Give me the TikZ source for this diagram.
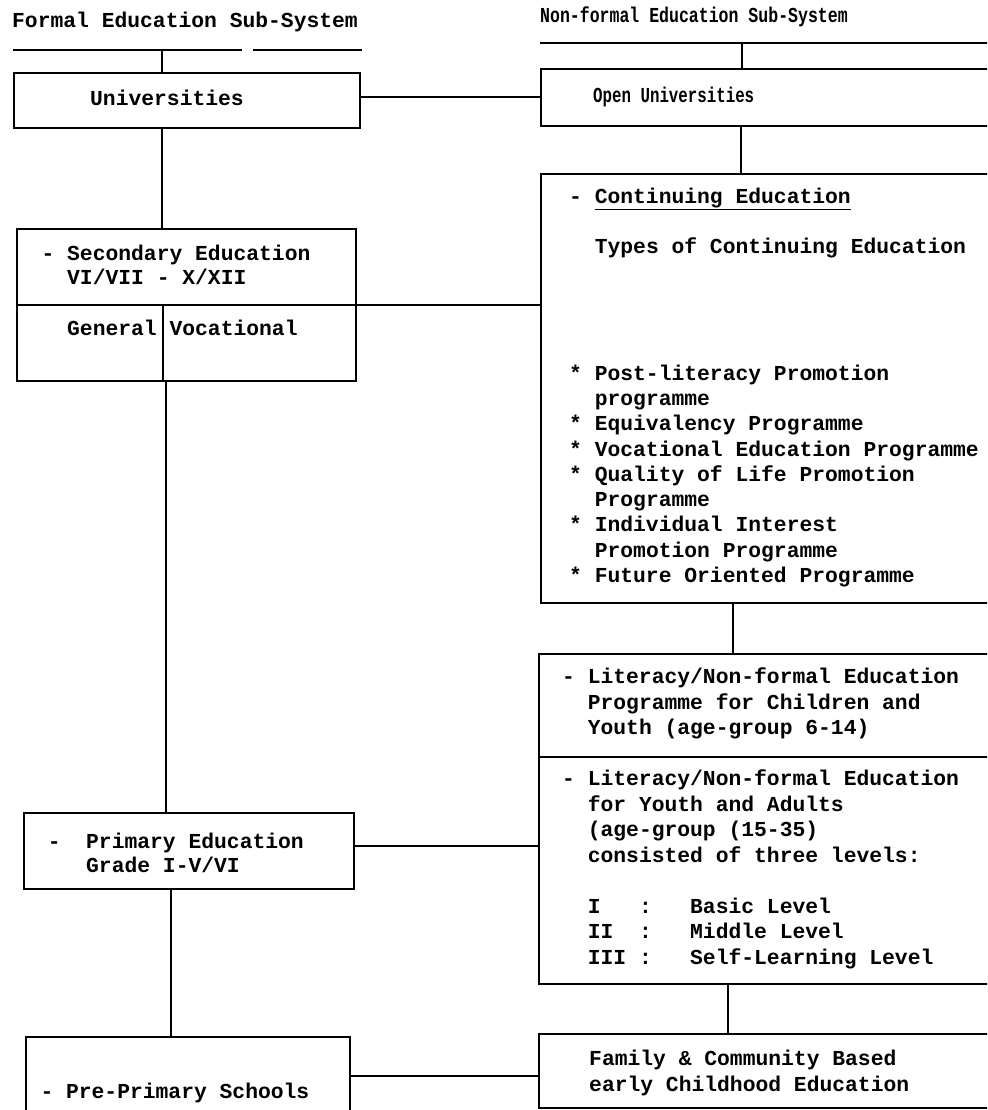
\documentclass[tikz,border=0pt]{standalone}
\usepackage{graphicx}
\usepackage{fontspec}
\setmonofont{Liberation Mono}
\begin{document}
\begin{tikzpicture}[x=1pt,y=-1pt,
  lines/.style={line width=2.2pt},
  box/.style={draw, line width=2.2pt, rectangle, inner sep=0pt, anchor=north west},
  txt/.style={anchor=base west, inner sep=0pt, align=left,
    font=\ttfamily\bfseries\fontsize{21.33}{25.5}\selectfont},
  txtL/.style={txt, font=\ttfamily\bfseries\fontsize{21.33}{23.5}\selectfont},
  txtC/.style={txt, font=\ttfamily\bfseries\fontsize{21.33}{25.3}\selectfont},
  txtF/.style={txt, font=\ttfamily\bfseries\fontsize{21.33}{26.5}\selectfont}
  ]
\useasboundingbox (0,0) rectangle (987,1110);
\fill[white] (0,0) rectangle (987,1110);
\clip (0,0) rectangle (987,1110);

% ---------- coordinates ----------
\coordinate (lhA) at (13,50);  \coordinate (lhB) at (242,50);
\coordinate (lhC) at (253,50); \coordinate (lhD) at (362,50);
\coordinate (lh)  at (162,50);
\coordinate (rhA) at (540,43); \coordinate (rhB) at (1000,43);
\coordinate (rh)  at (742,43);
\coordinate (xa) at (162,0);
\coordinate (xb) at (166,0);
\coordinate (xc) at (171,0);
\coordinate (xd) at (741,0);
\coordinate (xe) at (733,0);
\coordinate (xf) at (728,0);
\coordinate (xsd) at (163,0);
\coordinate (ya) at (0,97);
\coordinate (yb) at (0,305);
\coordinate (yc) at (0,846);
\coordinate (yd) at (0,1076);
\coordinate (ylit) at (0,757);

% ---------- boxes ----------
\node[box, minimum width=346pt, minimum height=55pt]  (univ)  at (13,72) {};
\node[box, minimum width=460pt, minimum height=57pt]  (openu) at (540,68) {};
\node[box, minimum width=339pt, minimum height=152pt] (sec)   at (16,228) {};
\node[box, minimum width=460pt, minimum height=429pt] (cont)  at (540,173) {};
\node[box, minimum width=330pt, minimum height=76pt]  (prim)  at (23,812) {};
\node[box, minimum width=462pt, minimum height=330pt] (lit)   at (538,653) {};
\node[box, minimum width=324pt, minimum height=80pt]  (pre)   at (25,1036) {};
\node[box, minimum width=462pt, minimum height=74pt]  (fam)   at (538,1033) {};

% box dividers
\draw[lines] (sec.west |- yb) -- (sec.east |- yb);
\draw[lines] (sec.south -| xsd) -- (yb -| xsd);
\draw[lines] (lit.west |- ylit) -- (lit.east |- ylit);

% ---------- header lines ----------
\draw[lines] (lhA) -- (lhB);
\draw[lines] (lhC) -- (lhD);
\draw[lines] (rhA) -- (rhB);

% ---------- connectors ----------
\draw[lines] (lh) -- (lh |- univ.north);
\draw[lines] (rh) -- (rh |- openu.north);
\draw[lines] (univ.south -| xa) -- (sec.north -| xa);
\draw[lines] (sec.south -| xb) -- (prim.north -| xb);
\draw[lines] (prim.south -| xc) -- (pre.north -| xc);
\draw[lines] (openu.south -| xd) -- (cont.north -| xd);
\draw[lines] (cont.south -| xe) -- (lit.north -| xe);
\draw[lines] (lit.south -| xf) -- (fam.north -| xf);
\draw[lines] (univ.east |- ya) -- (openu.west |- ya);
\draw[lines] (sec.east |- yb) -- (cont.west |- yb);
\draw[lines] (prim.east |- yc) -- (lit.west |- yc);
\draw[lines] (pre.east |- yd) -- (fam.west |- yd);

% ---------- texts (base anchor = baseline of the last line) ----------
\node[txt] (t-formal) at (12,28) {Formal Education Sub-System};
\node[txt] (t-nonformal) at (540,23) {\scalebox{0.775}[1]{Non-formal Education Sub-System}};
\node[txt] (t-univ) at (90,105.5) {Universities};
\node[txt] (t-openu) at (593,102.5) {\scalebox{0.74}[1]{Open Universities}};
\node[txtL] (t-sec) at (41.4,284) {- Secondary Education\\~~VI/VII - X/XII};
\node[txt] (t-gen) at (67,335.5) {General Vocational};
\node[txtL] (t-prim) at (47.6,872) {-~~Primary Education\\~~~Grade I-V/VI};
\node[txt] (t-pre) at (40.3,1098.5) {- Pre-Primary Schools};
\node[txtC] (t-cont) at (569,582.5) {- \underline{Continuing Education}\\[25.3pt]
~~Types of Continuing Education\\[101.2pt]
{*} Post-literacy Promotion\\
~~programme\\
{*} Equivalency Programme\\
{*} Vocational Education Programme\\
{*} Quality of Life Promotion\\
~~Programme\\
{*} Individual Interest\\
~~Promotion Programme\\
{*} Future Oriented Programme};
\node[txt] (t-lit1) at (562,734.5) {- Literacy/Non-formal Education\\
~~Programme for Children and\\
~~Youth (age-group 6-14)};
\node[txt] (t-lit2) at (562,964) {- Literacy/Non-formal Education\\
~~for Youth and Adults\\
~~(age-group (15-35)\\
~~consisted of three levels:\\[25.5pt]
~~I~~~:~~~Basic Level\\
~~II~~:~~~Middle Level\\
~~III~:~~~Self-Learning Level};
\node[txtF] (t-fam) at (589,1091.5) {Family \& Community Based\\early Childhood Education};
\end{tikzpicture}
\end{document}
